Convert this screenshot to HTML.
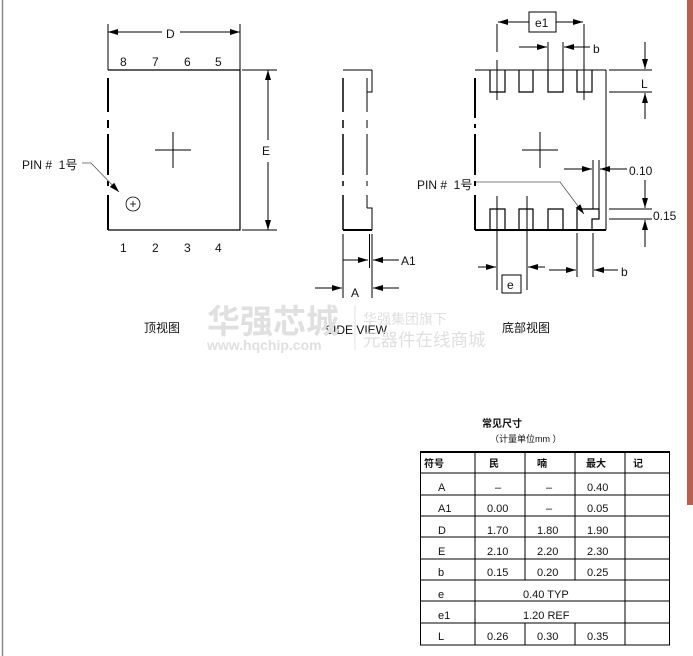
<!DOCTYPE html>
<html><head><meta charset="utf-8"><style>
html,body{margin:0;padding:0;background:#fff;width:693px;height:656px;overflow:hidden}
svg{display:block}
text{font-family:"Liberation Sans","Noto Sans CJK SC",sans-serif;fill:#111;white-space:pre}
</style></head><body>
<svg width="693" height="656" viewBox="0 0 693 656" xmlns="http://www.w3.org/2000/svg" xml:space="preserve">
<defs>
<marker id="a" viewBox="0 0 10 6" refX="10" refY="3" markerWidth="10" markerHeight="6" orient="auto" markerUnits="userSpaceOnUse"><path d="M0,0 L10,3 L0,6 z" fill="#000"/></marker>
</defs>
<line x1="2.5" y1="0" x2="2.5" y2="656" stroke="#888" stroke-width="1.5"/>
<rect x="687" y="0" width="6" height="505" fill="#b86050"/>
<g stroke="#000" fill="none" stroke-width="1">
<path d="M108,70 H240 V230 H108" stroke-width="1.2"/>
<path d="M108,78 V112 M108,120 V128 M108,134 V175 M108,181 V186 M108,195 V230" stroke-width="2"/>
<line x1="108" y1="24" x2="108" y2="70"/><line x1="240" y1="24" x2="240" y2="70"/>
<line x1="162" y1="32" x2="108" y2="32" marker-end="url(#a)"/><line x1="180" y1="32" x2="240" y2="32" marker-end="url(#a)"/>
<line x1="242" y1="70" x2="277" y2="70"/><line x1="242" y1="230" x2="277" y2="230"/>
<line x1="268" y1="140" x2="268" y2="70" marker-end="url(#a)"/><line x1="268" y1="162" x2="268" y2="230" marker-end="url(#a)"/>
<line x1="155" y1="150" x2="191" y2="150"/><line x1="173" y1="132" x2="173" y2="168"/>
<circle cx="133" cy="204" r="7" stroke-width="0.8"/><path d="M130,204 h6 M133,201 v6" stroke-width="0.8"/>
<path d="M82,163 H91 L119,192" stroke="#555" stroke-width="0.8" marker-end="url(#a)"/>
<line x1="343" y1="70" x2="372" y2="70"/>
<path d="M343,78 V112 M343,120 V128 M343,134 V175 M343,181 V186 M343,195 V230" stroke-width="1.5"/>
<path d="M367,78 V112 M367,120 V128 M367,134 V175 M367,181 V186 M367,195 V208"/>
<path d="M372,70 V92 H367 M367,208 H372 V230"/>
<line x1="343" y1="230" x2="372" y2="230" stroke-width="2"/>
<line x1="343" y1="234" x2="343" y2="298"/><line x1="369.5" y1="234" x2="369.5" y2="268"/><line x1="372" y1="234" x2="372" y2="298"/>
<line x1="343" y1="260" x2="368" y2="260" marker-end="url(#a)"/><line x1="399" y1="260" x2="373" y2="260" marker-end="url(#a)"/>
<line x1="315" y1="288" x2="342" y2="288" marker-end="url(#a)"/><line x1="399" y1="288" x2="373" y2="288" marker-end="url(#a)"/>
<line x1="475" y1="70" x2="606" y2="70"/><line x1="606" y1="70" x2="606" y2="230"/>
<line x1="475" y1="230" x2="606" y2="230" stroke-width="2"/>
<path d="M475,78 V118 M475,124 V128 M475,134 V175 M475,181 V186 M475,195 V230" stroke-width="2"/>
<path d="M490,70 V92 H505 V70 M519,70 V92 H533 V70 M548,70 V92 H563 V70 M577,70 V92 H592 V70" stroke-width="1.2"/>
<path d="M490,230 V209 H505 V230 M519,230 V209 H533 V230 M548,230 V209 H563 V230 M577,230 V209 H599 V219 H592 V230" stroke-width="1.2"/>
<line x1="522" y1="150" x2="558" y2="150"/><line x1="540" y1="132" x2="540" y2="168"/>
<path d="M497,100 V60 M497,52 V24" /><line x1="584" y1="24" x2="584" y2="100"/>
<line x1="529" y1="22" x2="498" y2="22" marker-end="url(#a)"/><line x1="556" y1="22" x2="583" y2="22" marker-end="url(#a)"/>
<rect x="529" y="12" width="27" height="20" fill="#fff"/>
<line x1="548" y1="42" x2="548" y2="70"/><line x1="563" y1="42" x2="563" y2="70"/>
<line x1="519" y1="47" x2="547" y2="47" marker-end="url(#a)"/><line x1="590" y1="47" x2="564" y2="47" marker-end="url(#a)"/>
<line x1="609" y1="70" x2="652" y2="70"/><line x1="609" y1="92" x2="652" y2="92"/>
<line x1="645" y1="42" x2="645" y2="69" marker-end="url(#a)"/><line x1="645" y1="119" x2="645" y2="93" marker-end="url(#a)"/>
<line x1="593" y1="160" x2="593" y2="209"/><line x1="599" y1="160" x2="599" y2="209"/>
<line x1="564" y1="169" x2="592" y2="169" marker-end="url(#a)"/><line x1="627" y1="169" x2="600" y2="169" marker-end="url(#a)"/>
<line x1="609" y1="209" x2="652" y2="209"/><line x1="609" y1="219" x2="652" y2="219"/>
<line x1="645" y1="180" x2="645" y2="208" marker-end="url(#a)"/><line x1="645" y1="247" x2="645" y2="220" marker-end="url(#a)"/>
<path d="M476,182 H560 L584,214" stroke="#555" stroke-width="0.8" marker-end="url(#a)"/>
<line x1="497" y1="196" x2="497" y2="290"/><line x1="527" y1="196" x2="527" y2="290"/>
<line x1="478" y1="267" x2="496" y2="267" marker-end="url(#a)"/><line x1="545" y1="267" x2="528" y2="267" marker-end="url(#a)"/>
<rect x="502" y="275" width="19" height="18"/>
<line x1="577" y1="233" x2="577" y2="277"/><line x1="593" y1="233" x2="593" y2="277"/>
<line x1="549" y1="270" x2="576" y2="270" marker-end="url(#a)"/><line x1="618" y1="270" x2="594" y2="270" marker-end="url(#a)"/>
</g>
<g font-size="12">
<text x="166" y="38">D</text>
<text x="120" y="66">8</text><text x="152" y="66">7</text><text x="184" y="66">6</text><text x="215" y="66">5</text>
<text x="120" y="252">1</text><text x="152" y="252">2</text><text x="184" y="252">3</text><text x="215" y="252">4</text>
<text x="262" y="155">E</text>
<text x="22" y="169">PIN #  1号</text>
<text x="401" y="265">A1</text><text x="351" y="297">A</text>
<text x="535" y="27">e1</text><text x="593" y="53">b</text><text x="641" y="88">L</text>
<text x="629" y="175">0.10</text><text x="653" y="220">0.15</text>
<text x="417" y="189">PIN #  1号</text>
<text x="507" y="289">e</text><text x="621" y="276">b</text>
<text x="144" y="332">顶视图</text>
<text x="325" y="334">SIDE VIEW</text>
<text x="502" y="332">底部视图</text>
</g>
<g>
<text x="207" y="333" font-size="33" font-weight="bold" style="fill:#e0e0e0">华强芯城</text>
<text x="207" y="350" font-size="14" font-weight="bold" style="fill:#e0e0e0">www.hqchip.com</text>
<line x1="355" y1="305" x2="355" y2="350" stroke="#e0e0e0"/>
<text x="363" y="324" font-size="14" style="fill:#e0e0e0">华强集团旗下</text>
<text x="363" y="346" font-size="17.5" style="fill:#e0e0e0">元器件在线商城</text>
</g>
<text x="482" y="427" font-size="10" font-weight="bold">常见尺寸</text>
<text x="490" y="442" font-size="9">（计量单位mm ）</text>
<g stroke="#000" fill="none">
<line x1="420" y1="452" x2="670" y2="452" stroke-width="2"/>
<rect x="420.5" y="452" width="249" height="193"/>
<path d="M420,473H670 M420,495H670 M420,516H670 M420,537H670 M420,559H670 M420,580H670 M420,601H670 M420,623H670"/>
<path d="M475,452V645 M525,452V580 M525,623V645 M575,452V580 M575,623V645 M625,452V645"/>
</g>
<g font-size="11">
<text x="424" y="467" font-size="10" font-weight="bold">符号</text>
<text x="489" y="467" font-size="10" font-weight="bold">民</text>
<text x="537" y="467" font-size="10" font-weight="bold">喃</text>
<text x="586" y="467" font-size="10" font-weight="bold">最大</text>
<text x="633" y="467" font-size="10" font-weight="bold">记</text>
<text x="438" y="491">A</text><text x="495" y="491">–</text><text x="546" y="491">–</text><text x="587" y="491">0.40</text>
<text x="438" y="512">A1</text><text x="487" y="512">0.00</text><text x="546" y="512">–</text><text x="587" y="512">0.05</text>
<text x="438" y="534">D</text><text x="487" y="534">1.70</text><text x="537" y="534">1.80</text><text x="587" y="534">1.90</text>
<text x="438" y="555">E</text><text x="487" y="555">2.10</text><text x="537" y="555">2.20</text><text x="587" y="555">2.30</text>
<text x="438" y="576">b</text><text x="487" y="576">0.15</text><text x="537" y="576">0.20</text><text x="587" y="576">0.25</text>
<text x="438" y="598">e</text><text x="523" y="598">0.40 TYP</text>
<text x="438" y="619">e1</text><text x="523" y="619">1.20 REF</text>
<text x="438" y="640">L</text><text x="487" y="640">0.26</text><text x="537" y="640">0.30</text><text x="587" y="640">0.35</text>
</g>
</svg>
</body></html>
